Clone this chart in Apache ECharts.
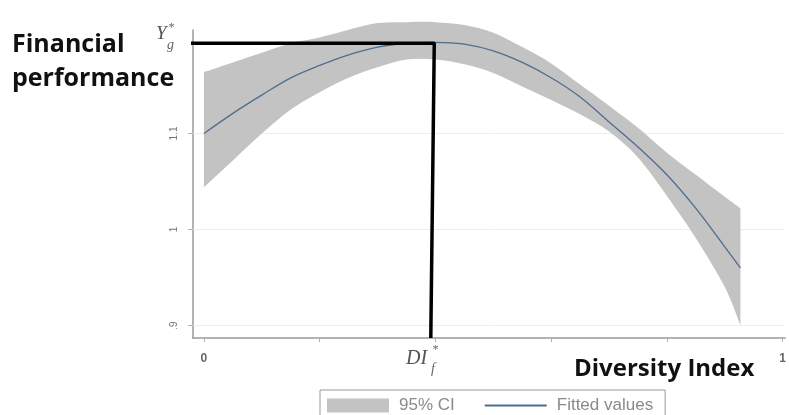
<!DOCTYPE html>
<html>
<head>
<meta charset="utf-8">
<script src="https://cdn.jsdelivr.net/npm/echarts@6/dist/echarts.min.js"></script>
<style>
html,body{margin:0;padding:0;background:#fff;}
#chart{width:789px;height:415px;}
</style>
</head>
<body>
<div id="chart"></div>
<script>
// Diversity index (x) grid
var xs = [0, 0.05, 0.1, 0.15, 0.2, 0.25, 0.3, 0.35, 0.4, 0.45, 0.5, 0.55, 0.6, 0.65, 0.7, 0.75, 0.8, 0.85, 0.9, 0.927];
// Fitted values
var fitted = [1.100, 1.121, 1.140, 1.158, 1.171, 1.182, 1.190, 1.194, 1.195, 1.193, 1.186, 1.174, 1.158, 1.138, 1.112, 1.086, 1.057, 1.022, 0.982, 0.960];
// 95% CI bounds
var upper = [1.164, 1.174, 1.184, 1.194, 1.200, 1.208, 1.215, 1.216, 1.216, 1.213, 1.205, 1.190, 1.173, 1.151, 1.129, 1.106, 1.080, 1.057, 1.034, 1.022];
var lower = [1.044, 1.072, 1.100, 1.125, 1.143, 1.158, 1.169, 1.177, 1.177, 1.172, 1.163, 1.149, 1.135, 1.120, 1.102, 1.075, 1.035, 0.991, 0.940, 0.900];
// Axis ticks and labels
var xTicks = [0, 0.2, 0.4, 0.6, 0.8, 1];
var xLabels = [0, 1];
var yTicks = [0.9, 1, 1.1];
var yLabelText = {'0.9': '.9', '1': '1', '1.1': '1.1'};
// Optimum marker (DI_f*, Y_g*)
var optX = [-0.0275, 0.398, 0.392];
var optY = [1.194, 1.194, 0.887];

var xMin = -0.0189, xMax = 1.0043, yMin = 0.887, yMax = 1.2078;

var bandData = xs.map(function (x, i) { return [x, lower[i], upper[i]]; });
var fitData = xs.map(function (x, i) { return [x, fitted[i]]; });
var optData = optX.map(function (x, i) { return [x, optY[i]]; });

// smooth path segment through pixel points (Catmull-Rom as cubic Bezier)
function splineSegs(p) {
  var d = '';
  var n = p.length;
  for (var i = 0; i < n - 1; i++) {
    var p0 = p[Math.max(i - 1, 0)], p1 = p[i], p2 = p[i + 1], p3 = p[Math.min(i + 2, n - 1)];
    var c1 = [p1[0] + (p2[0] - p0[0]) / 6, p1[1] + (p2[1] - p0[1]) / 6];
    var c2 = [p2[0] - (p3[0] - p1[0]) / 6, p2[1] - (p3[1] - p1[1]) / 6];
    d += ' C' + c1[0] + ',' + c1[1] + ' ' + c2[0] + ',' + c2[1] + ' ' + p2[0] + ',' + p2[1];
  }
  return d;
}

function renderBand(params, api) {
  if (params.dataIndex !== 0) return null;
  var up = [], lo = [];
  for (var i = 0; i < bandData.length; i++) up.push(api.coord([bandData[i][0], bandData[i][2]]));
  for (var j = bandData.length - 1; j >= 0; j--) lo.push(api.coord([bandData[j][0], bandData[j][1]]));
  var d = 'M' + up[0][0] + ',' + up[0][1] + splineSegs(up) +
          ' L' + lo[0][0] + ',' + lo[0][1] + splineSegs(lo) + ' Z';
  return {
    type: 'path',
    shape: {pathData: d},
    style: {fill: '#c3c3c3', stroke: 'none'}
  };
}

var chart = echarts.init(document.getElementById('chart'), null, {renderer: 'canvas'});
chart.setOption({
  animation: false,
  backgroundColor: '#ffffff',
  grid: {left: 193, top: 30, width: 596, height: 308, containLabel: false},
  xAxis: {
    type: 'value', min: xMin, max: xMax,
    axisLine: {show: true, onZero: false, lineStyle: {color: '#9a9a9a', width: 1.5}},
    axisTick: {show: true, customValues: xTicks, length: 4, lineStyle: {color: '#b0b0b0'}},
    axisLabel: {show: true, customValues: xLabels, margin: 15, fontSize: 12, color: '#666', fontWeight: 'bold',
      fontFamily: 'Liberation Sans', formatter: function (v) { return String(v); }},
    splitLine: {show: false}
  },
  yAxis: {
    type: 'value', min: yMin, max: yMax,
    axisLine: {show: true, onZero: false, lineStyle: {color: '#9a9a9a', width: 1.5}},
    axisTick: {show: true, customValues: yTicks, length: 5, lineStyle: {color: '#b0b0b0'}},
    axisLabel: {show: true, customValues: yTicks, rotate: 90, margin: 14, fontSize: 10, color: '#777',
      fontFamily: 'Liberation Sans',
      formatter: function (v) { return yLabelText[String(+v.toFixed(2))] || ''; }},
    splitLine: {show: false}
  },
  legend: {
    left: 320, top: 390,
    padding: [7, 12, 7, 7],
    borderColor: '#999', borderWidth: 1,
    itemWidth: 62, itemHeight: 14, itemGap: 29,
    textStyle: {fontSize: 17, color: '#8a8a8a', fontFamily: 'Liberation Sans', padding: [0, 0, 0, 5]},
    selectedMode: false,
    data: [
      {name: '95% CI', icon: 'rect', itemStyle: {color: '#c3c3c3'}},
      {name: 'Fitted values', itemStyle: {color: 'rgba(0,0,0,0)', borderColor: 'rgba(0,0,0,0)', borderWidth: 0}}
    ]
  },
  series: [
    {
      name: '95% CI', type: 'custom', data: bandData, renderItem: renderBand,
      encode: {x: 0, y: [1, 2]}, itemStyle: {color: '#c3c3c3'}, z: 2, silent: true, clip: false,
      markLine: {
        silent: true, symbol: 'none', z: 1, label: {show: false},
        lineStyle: {color: '#ededed', width: 1, type: 'solid'},
        data: yTicks.map(function (v) { return {yAxis: v}; })
      }
    },
    {
      name: 'Fitted values', type: 'line', data: fitData, smooth: 0.35,
      symbol: 'none', lineStyle: {color: '#4f6d8c', width: 1.3}, itemStyle: {color: '#4f6d8c'},
      z: 3, silent: true, clip: false
    },
    {
      name: 'optimum', type: 'line', data: optData, symbol: 'none',
      lineStyle: {color: '#000', width: 3.5}, z: 4, silent: true, clip: false
    }
  ],
  graphic: [
    {type: 'text', left: 12, top: 32, style: {text: 'Financial', font: 'bold 25px "Open Sans"', fill: '#111'}},
    {type: 'text', left: 12, top: 66, style: {text: 'performance', font: 'bold 25px "Open Sans"', fill: '#111'}},
    {type: 'text', left: 574, top: 357, style: {text: 'Diversity Index', font: 'bold 24px "Open Sans"', fill: '#111'}},
    {type: 'text', left: 156, top: 24, style: {text: 'Y', font: 'italic 19px "Liberation Serif"', fill: '#555'}},
    {type: 'text', left: 168, top: 22, style: {text: '*', font: 'italic 12px "Liberation Serif"', fill: '#666'}},
    {type: 'text', left: 167, top: 38, style: {text: 'g', font: 'italic 14px "Liberation Serif"', fill: '#666'}},
    {type: 'text', left: 406, top: 349, style: {text: 'DI', font: 'italic 20px "Liberation Serif"', fill: '#555'}},
    {type: 'text', left: 432, top: 344, style: {text: '*', font: 'italic 12px "Liberation Serif"', fill: '#666'}},
    {type: 'text', left: 431, top: 362, style: {text: 'f', font: 'italic 14px "Liberation Serif"', fill: '#666'}}
  ]
});
</script>
</body>
</html>
